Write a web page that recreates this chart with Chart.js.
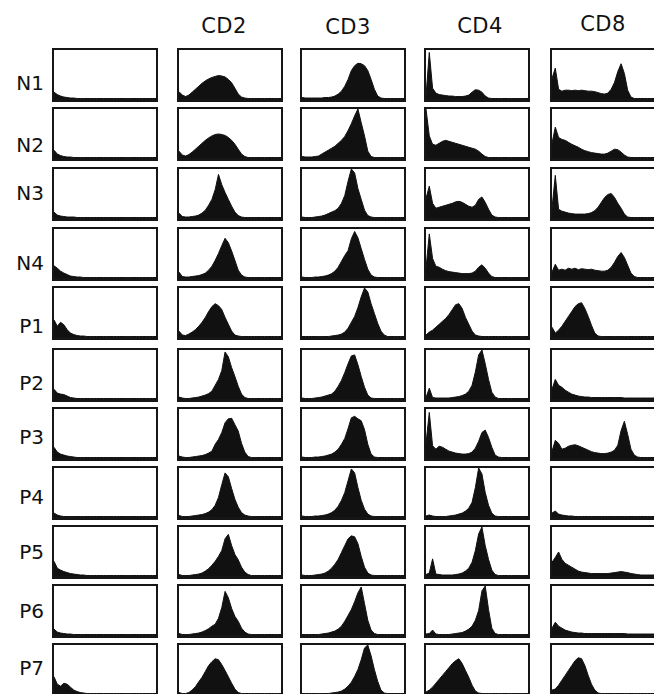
<!DOCTYPE html>
<html>
<head>
<meta charset="utf-8">
<script src="https://cdn.jsdelivr.net/npm/chart.js@4.4.0/dist/chart.umd.min.js"></script>
<style>
  body { margin: 0; background: #fff; width: 654px; height: 694px; overflow: hidden; position: relative;
         font-family: "DejaVu Sans", sans-serif; color: #111; }
  .panel { position: absolute; box-sizing: border-box; border: 2px solid #161616; border-bottom-width: 3px; background: #fff; }
  .panel canvas { display: block; }
  .lab { position: absolute; font-size: 20px; line-height: 20px; white-space: nowrap; }
  .head { font-size: 21px; letter-spacing: 0.5px; }
</style>
</head>
<body>
<script>
// samples (rows) and markers (columns)
const rowLabels = ['N1', 'N2', 'N3', 'N4', 'P1', 'P2', 'P3', 'P4', 'P5', 'P6', 'P7'];
const markerLabels = ['CD2', 'CD3', 'CD4', 'CD8'];
// 32 fluorescence channels per histogram, counts in % of panel height
const channels = Array.from({ length: 32 }, (_, i) => i);

const controlHist = [
  [14,9,6,4,3,2,2,1, 1,1,1,1,1,1,1,1, 1,1,1,1,1,1,1,1, 1,1,1,1,1,1,1,1],
  [16,8,5,3,2,2,1,1, 1,1,1,1,1,1,1,1, 1,1,1,1,1,1,1,1, 1,1,1,1,1,1,1,1],
  [12,6,4,3,2,2,2,1, 1,1,1,1,1,1,1,1, 1,1,1,1,1,1,1,1, 1,1,1,1,1,1,1,1],
  [25,20,14,10,7,4,3,2, 2,1,1,1,1,1,1,1, 1,1,1,1,1,1,1,1, 1,1,1,1,1,1,1,1],
  [35,22,30,25,15,8,5,3, 2,2,1,1,1,1,1,1, 1,1,1,1,1,1,1,1, 1,1,1,1,1,1,1,1],
  [20,12,10,9,6,3,2,1, 1,1,1,1,1,1,1,1, 1,1,1,1,1,1,1,1, 1,1,1,1,1,1,1,1],
  [22,12,8,6,4,3,2,1, 1,1,1,1,1,1,1,1, 1,1,1,1,1,1,1,1, 1,1,1,1,1,1,1,1],
  [8,4,2,1,1,1,1,1, 1,1,1,1,1,1,1,1, 1,1,1,1,1,1,1,1, 1,1,1,1,1,1,1,1],
  [30,16,12,9,7,5,4,3, 2,2,1,1,1,1,1,1, 1,1,1,1,1,1,1,1, 1,1,1,1,1,1,1,1],
  [12,6,4,3,2,2,1,1, 1,1,1,1,1,1,1,1, 1,1,1,1,1,1,1,1, 1,1,1,1,1,1,1,1],
  [35,20,16,22,20,14,8,5, 3,2,1,1,1,1,1,1, 1,1,1,1,1,1,1,1, 1,1,1,1,1,1,1,1]
];

const cd2Hist = [
  [15,8,5,8,14,20,26,32, 37,41,44,46,48,47,45,40, 33,22,10,4,2,1,1,1, 1,1,1,1,1,1,1,1],
  [14,6,4,7,12,18,24,30, 36,41,45,48,49,48,46,42, 36,28,18,8,3,1,1,1, 1,1,1,1,1,1,1,1],
  [10,3,2,2,3,4,6,10, 16,26,38,58,89,68,52,38, 24,12,5,2,1,1,1,1, 1,1,1,1,1,1,1,1],
  [12,3,2,2,3,4,5,7, 10,16,24,36,50,66,81,72, 55,36,16,6,2,1,1,1, 1,1,1,1,1,1,1,1],
  [12,4,3,6,10,15,22,30, 40,52,62,68,64,56,40,26, 12,4,2,1,1,1,1,1, 1,1,1,1,1,1,1,1],
  [4,2,1,1,2,3,4,6, 8,11,16,28,40,58,96,86, 64,46,26,10,3,1,1,1, 1,1,1,1,1,1,1,1],
  [4,2,1,1,2,3,4,5, 7,10,14,28,38,52,72,80, 81,68,55,30,12,3,1,1, 1,1,1,1,1,1,1,1],
  [3,1,1,1,2,3,4,5, 7,10,15,24,40,66,90,82, 58,36,20,9,4,2,1,1, 1,1,1,1,1,1,1,1],
  [3,1,1,1,2,3,4,6, 10,15,22,30,40,52,76,85, 62,44,33,18,8,3,1,1, 1,1,1,1,1,1,1,1],
  [3,1,1,1,2,3,4,6, 9,13,18,22,34,56,89,76, 54,38,28,14,6,2,1,1, 1,1,1,1,1,1,1,1],
  [3,1,1,3,8,15,25,34, 46,58,66,72,70,60,48,35, 22,10,3,1,1,1,1,1, 1,1,1,1,1,1,1,1]
];

const cd3Hist = [
  [3,2,2,2,2,2,2,3, 3,4,6,10,16,26,40,58, 68,73,72,68,58,40,20,6, 2,1,1,1,1,1,1,1],
  [3,2,2,2,3,4,8,12, 16,20,24,30,36,44,56,70, 86,100,72,45,14,3,1,1, 1,1,1,1,1,1,1,1],
  [2,1,1,1,2,3,4,6, 9,12,15,20,30,46,75,100, 92,60,38,16,5,2,1,1, 1,1,1,1,1,1,1,1],
  [2,1,1,1,2,2,3,4, 6,9,14,22,34,46,56,80, 95,82,60,38,18,6,2,1, 1,1,1,1,1,1,1,1],
  [1,1,1,1,1,1,1,1, 1,2,3,4,6,10,18,30, 42,60,82,100,92,68,48,28, 12,4,1,1,1,1,1,1],
  [2,1,1,1,2,3,4,6, 8,10,16,26,38,54,72,88, 90,70,46,24,8,2,1,1, 1,1,1,1,1,1,1,1],
  [2,1,1,1,2,2,3,4, 6,8,12,18,28,40,60,82, 85,80,76,58,28,8,2,1, 1,1,1,1,1,1,1,1],
  [2,1,1,1,2,2,3,4, 6,9,14,22,34,50,74,98, 90,60,34,16,6,2,1,1, 1,1,1,1,1,1,1,1],
  [2,1,1,1,2,3,4,6, 10,16,24,34,48,62,76,82, 80,66,40,18,6,2,1,1, 1,1,1,1,1,1,1,1],
  [1,1,1,1,1,1,2,3, 4,6,8,12,18,28,40,52, 68,86,98,64,30,10,3,1, 1,1,1,1,1,1,1,1],
  [1,1,1,1,1,1,1,1, 1,2,3,4,6,10,16,24, 36,50,70,94,100,78,50,26, 8,2,1,1,1,1,1,1]
];

const cd4Hist = [
  [6,95,22,12,9,8,7,6, 6,5,5,5,6,8,14,19, 18,14,6,2,1,1,1,1, 1,1,1,1,1,1,1,1],
  [100,45,28,26,30,34,36,34, 32,30,28,26,24,22,20,18, 14,8,3,1,1,1,1,1, 1,1,1,1,1,1,1,1],
  [40,65,30,20,22,24,26,28, 30,33,34,32,28,24,22,26, 38,43,32,18,6,2,1,1, 1,1,1,1,1,1,1,1],
  [20,90,40,24,22,18,15,13, 12,11,10,9,9,9,10,14, 22,27,20,10,3,1,1,1, 1,1,1,1,1,1,1,1],
  [4,10,14,20,26,32,38,46, 56,66,68,58,40,26,12,4, 2,1,1,1,1,1,1,1, 1,1,1,1,1,1,1,1],
  [3,22,3,2,2,2,2,2, 3,4,5,7,10,16,28,55, 90,100,72,40,14,4,1,1, 1,1,1,1,1,1,1,1],
  [30,93,25,18,24,22,18,14, 12,10,9,8,8,9,12,20, 34,52,57,42,22,6,2,1, 1,1,1,1,1,1,1,1],
  [2,4,2,1,1,1,1,2, 3,4,6,8,12,18,30,60, 100,88,50,24,8,2,1,1, 1,1,1,1,1,1,1,1],
  [3,6,35,4,3,2,2,2, 2,3,4,6,10,16,28,52, 86,100,62,34,12,3,1,1, 1,1,1,1,1,1,1,1],
  [2,3,10,2,1,1,1,1, 2,3,4,5,8,12,18,30, 50,90,100,52,14,3,1,1, 1,1,1,1,1,1,1,1],
  [4,8,14,22,30,38,46,54, 62,68,72,62,48,34,18,6, 2,1,1,1,1,1,1,1, 1,1,1,1,1,1,1,1]
];

const cd8Hist = [
  [42,63,20,16,18,18,17,18, 17,18,17,16,16,15,13,11, 10,12,20,34,56,72,52,18, 4,1,1,1,1,1,1,1],
  [30,63,42,38,36,32,28,25, 22,18,15,13,11,10,9,8, 8,10,14,18,17,12,6,2, 1,1,1,1,1,1,1,1],
  [20,87,18,14,12,10,9,8, 8,8,8,9,11,15,22,32, 42,48,50,42,30,20,8,2, 1,1,1,1,1,1,1,1],
  [12,28,16,18,16,20,18,20, 17,19,18,17,18,16,15,14, 14,16,22,32,44,52,42,26, 10,3,1,1,1,1,1,1],
  [20,8,14,22,32,42,52,62, 68,70,58,42,24,8,2,1, 1,1,1,1,1,1,1,1, 1,1,1,1,1,1,1,1],
  [20,40,28,24,18,14,10,8, 6,5,4,4,3,3,3,3, 3,3,3,3,3,3,2,2, 2,2,2,2,2,2,2,2],
  [14,36,30,18,20,24,26,27, 25,22,19,16,13,11,10,9, 9,10,12,16,26,56,75,48, 18,6,2,1,1,1,1,1],
  [8,12,6,4,3,2,2,1, 1,1,1,1,1,1,1,1, 1,1,1,1,1,1,1,1, 1,1,1,1,1,1,1,1],
  [28,38,49,34,26,22,18,14, 10,8,7,6,5,5,5,5, 5,5,6,7,8,9,8,7, 5,4,3,2,2,2,2,2],
  [14,26,18,14,10,8,6,5, 4,4,3,3,3,3,3,3, 3,3,3,3,3,3,3,2, 2,2,2,2,2,2,2,2],
  [8,10,18,28,38,48,58,68, 74,72,58,38,20,8,2,1, 1,1,1,1,1,1,1,1, 1,1,1,1,1,1,1,1]
];

const columns = [controlHist, cd2Hist, cd3Hist, cd4Hist, cd8Hist];

// layout of the grid of panels
const colLeft = [52, 177, 300, 424, 550];
const rowTop = [48, 107, 167, 227, 286, 348, 407, 466, 525, 584, 643];
const boxW = 106, boxH = 54;
const headerX = [224, 348, 480, 603];
const headerY = [26, 27, 26, 24];
const rowLabelY = [83, 145, 193, 263, 326, 383, 437, 497, 552, 611, 668];

function addText(text, x, y, anchor, cls) {
  const el = document.createElement('div');
  el.className = 'lab' + (cls ? ' ' + cls : '');
  el.textContent = text;
  el.style.left = x + 'px';
  el.style.top = y + 'px';
  el.style.transform = anchor === 'right' ? 'translate(-100%,-50%)' : 'translate(-50%,-50%)';
  document.body.appendChild(el);
}

markerLabels.forEach((m, i) => addText(m, headerX[i], headerY[i], 'center', 'head'));
rowLabels.forEach((r, i) => addText(r, 44, rowLabelY[i], 'right'));

columns.forEach((hists, c) => {
  hists.forEach((values, r) => {
    const box = document.createElement('div');
    box.className = 'panel';
    box.style.left = colLeft[c] + 'px';
    box.style.top = rowTop[r] + 'px';
    box.style.width = boxW + 'px';
    box.style.height = boxH + 'px';
    const canvas = document.createElement('canvas');
    canvas.width = boxW - 4;
    canvas.height = boxH - 5;
    box.appendChild(canvas);
    document.body.appendChild(box);

    new Chart(canvas, {
      type: 'line',
      data: {
        labels: channels,
        datasets: [{
          data: values,
          fill: 'origin',
          backgroundColor: '#111',
          borderColor: '#111',
          borderWidth: 1,
          pointRadius: 0,
          tension: 0
        }]
      },
      options: {
        responsive: false,
        animation: false,
        events: [],
        layout: { padding: 0 },
        plugins: { legend: { display: false }, tooltip: { enabled: false } },
        scales: {
          x: { display: false },
          y: { display: false, min: 0, max: 100 }
        }
      }
    });
  });
});
</script>
</body>
</html>
